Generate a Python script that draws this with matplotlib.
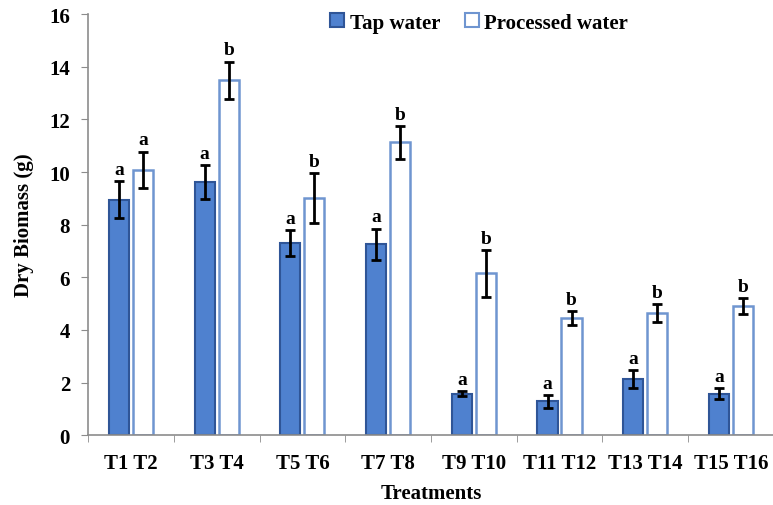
import numpy as np
import matplotlib
matplotlib.use('Agg')
import matplotlib.pyplot as plt
from matplotlib.lines import Line2D

plt.rcParams['font.family'] = ['Liberation Serif', 'DejaVu Serif']
plt.rcParams['font.weight'] = 'bold'

groups = ['T1 T2', 'T3 T4', 'T5 T6', 'T7 T8', 'T9 T10', 'T11 T12', 'T13 T14', 'T15 T16']
tap = [8.95, 9.62, 7.3, 7.25, 1.58, 1.28, 2.13, 1.58]
tap_err = [0.7, 0.65, 0.5, 0.6, 0.1, 0.25, 0.35, 0.2]
proc = [10.08, 13.48, 9.02, 11.13, 6.15, 4.45, 4.64, 4.92]
proc_err = [0.7, 0.72, 0.95, 0.63, 0.9, 0.28, 0.33, 0.3]
tap_letters = ['a'] * 8
proc_letters = ['a', 'b', 'b', 'b', 'b', 'b', 'b', 'b']

tap_face = '#4f81cf'
tap_edge = '#2f5597'
proc_edge = '#6f95d0'
grey = '#8c8c8c'
fs = 15

fig = plt.figure(figsize=(7.73, 5.06), dpi=100)
ax = fig.add_axes([0.114, 0.138, 0.887, 0.832])

x = np.arange(len(groups))
w = 0.235
off = 0.14
ax.bar(x - off, tap, w, color=tap_face, edgecolor=tap_edge, linewidth=1.5, zorder=2)
ax.bar(x + off, proc, w, color='white', edgecolor=proc_edge, linewidth=1.8, zorder=2)
ax.errorbar(x - off, tap, yerr=tap_err, fmt='none', ecolor='black', elinewidth=2,
            capsize=3.5, capthick=2, zorder=3)
ax.errorbar(x + off, proc, yerr=proc_err, fmt='none', ecolor='black', elinewidth=2,
            capsize=3.5, capthick=2, zorder=3)

for i in range(len(groups)):
    ax.text(x[i] - off, tap[i] + tap_err[i] + 0.12, tap_letters[i], ha='center', va='bottom',
            fontsize=14, fontweight='bold')
    ax.text(x[i] + off, proc[i] + proc_err[i] + 0.12, proc_letters[i], ha='center', va='bottom',
            fontsize=14, fontweight='bold')

ax.set_xlim(-0.5, len(groups) - 0.5)
ax.set_ylim(0, 16)
ax.set_yticks(range(0, 17, 2))
ax.set_xticks(x)
ax.set_xticklabels(groups, fontsize=fs, fontweight='bold')
ax.set_xticks(np.arange(len(groups) + 1) - 0.5, minor=True)
ax.tick_params(axis='x', which='major', length=0, pad=13)
ax.tick_params(axis='x', which='minor', length=5, color=grey, direction='out')
ax.tick_params(axis='y', length=5, color=grey, labelsize=fs, pad=8)
for lbl in ax.get_yticklabels():
    lbl.set_fontweight('bold')

for s in ['top', 'right']:
    ax.spines[s].set_visible(False)
for s in ['left', 'bottom']:
    ax.spines[s].set_color(grey)
    ax.spines[s].set_linewidth(1.2)

ax.set_ylabel('Dry Biomass (g)', fontsize=fs, fontweight='bold', labelpad=11)
ax.set_xlabel('Treatments', fontsize=fs, fontweight='bold', labelpad=7)

handles = [
    Line2D([], [], marker='s', linestyle='none', markersize=10, markerfacecolor=tap_face,
           markeredgecolor=tap_edge, markeredgewidth=1.5),
    Line2D([], [], marker='s', linestyle='none', markersize=10, markerfacecolor='white',
           markeredgecolor=proc_edge, markeredgewidth=1.5),
]
leg = ax.legend(handles, ['Tap water', 'Processed water'], ncol=2, frameon=False,
                loc='upper center', bbox_to_anchor=(0.568, 1.048), fontsize=fs,
                handletextpad=0.1, columnspacing=1.0, handlelength=1.0)
for t in leg.get_texts():
    t.set_fontweight('bold')

fig.savefig('out.png', dpi=100)
